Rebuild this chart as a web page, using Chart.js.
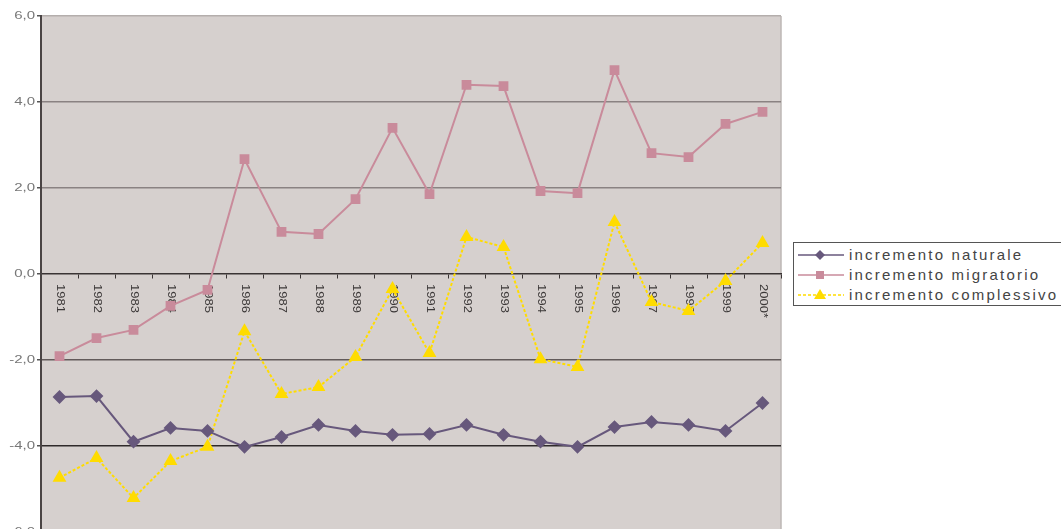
<!DOCTYPE html>
<html>
<head>
<meta charset="utf-8">
<script src="https://cdn.jsdelivr.net/npm/chart.js@4.4.1/dist/chart.umd.min.js"></script>
<style>
    html, body { margin: 0; padding: 0; background: #fff; overflow: hidden; }
    #wrap { position: relative; width: 1061px; height: 548px; }
    #legenda {
        position: absolute; left: 793px; top: 242px; width: 290px; height: 64px;
        border: 1px solid #555; background: #fff; box-sizing: border-box;
        font-family: 'Liberation Sans', Arial, sans-serif; font-size: 15px; color: #444;
        letter-spacing: 2.2px;
    }
    #legenda .voce { position: absolute; left: 4px; height: 20px; line-height: 20px; white-space: nowrap; }
    #legenda svg { vertical-align: middle; margin-right: 5px; position: relative; top: -1px; }
</style>
</head>
<body>
<div id="wrap">
    <canvas id="incrementiChart"></canvas>
    <div id="legenda"></div>
</div>
<script>
// Dati (valori per 1000 abitanti)
const anni = ['1981', '1982', '1983', '1984', '1985', '1986', '1987', '1988', '1989', '1990',
              '1991', '1992', '1993', '1994', '1995', '1996', '1997', '1998', '1999', '2000*'];
const naturale = [-2.86, -2.84, -3.90, -3.58, -3.65, -4.02, -3.79, -3.51, -3.65, -3.74,
                  -3.72, -3.51, -3.74, -3.90, -4.02, -3.56, -3.44, -3.51, -3.65, -3.00];
const migratorio = [-1.91, -1.49, -1.30, -0.74, -0.37, 2.67, 0.98, 0.93, 1.74, 3.40,
                    1.86, 4.40, 4.37, 1.93, 1.88, 4.74, 2.81, 2.72, 3.49, 3.77];
const complessivo = [-4.74, -4.28, -5.21, -4.35, -4.02, -1.33, -2.79, -2.63, -1.93, -0.35,
                     -1.84, 0.86, 0.63, -1.98, -2.16, 1.21, -0.65, -0.86, -0.16, 0.72];
const tickValori = [6, 4, 2, 0, -2, -4, -6];
const tickEtichette = ['6,0', '4,0', '2,0', '0,0', '-2,0', '-4,0', '-6,0'];

const colori = {
    naturale: '#67587c',
    migratorio: '#c98b9b',
    complessivo: '#ffdc00'
};

// sfondo grigio dell'area del grafico + etichette disegnate a mano
const sfondoPlugin = {
    id: 'sfondo',
    beforeDraw(chart) {
        const { ctx, chartArea: a } = chart;
        ctx.save();
        ctx.fillStyle = '#d6d0ce';
        ctx.fillRect(a.left, a.top, a.right - a.left, a.bottom - a.top);
        ctx.strokeStyle = '#bdb7b5';
        ctx.lineWidth = 1.5;
        ctx.beginPath();
        ctx.moveTo(a.right, a.top);
        ctx.lineTo(a.right, a.bottom);
        ctx.stroke();
        ctx.restore();
    },
    beforeDatasetsDraw(chart) {
        const { ctx, scales: { x, y } } = chart;
        ctx.save();
        ctx.fillStyle = '#3c3838';
        ctx.font = "10px 'Liberation Sans', Arial, sans-serif";
        // anni ruotati sotto l'asse dello zero
        const y0 = y.getPixelForValue(0) + 10;
        anni.forEach((anno, i) => {
            ctx.save();
            ctx.translate(x.getPixelForValue(i), y0);
            ctx.rotate(Math.PI / 2);
            ctx.scale(1.3, 1);
            ctx.textAlign = 'left';
            ctx.textBaseline = 'middle';
            ctx.fillText(anno, 0, 0);
            ctx.restore();
        });
        // etichette asse y
        ctx.fillStyle = '#777';
        tickValori.forEach((v, i) => {
            ctx.save();
            ctx.translate(35, y.getPixelForValue(v));
            ctx.scale(1.5, 1);
            ctx.textAlign = 'right';
            ctx.textBaseline = 'middle';
            ctx.fillText(tickEtichette[i], 0, 0);
            ctx.restore();
        });
        ctx.restore();
    }
};

function coloreGriglia(c) {
    const v = c.tick ? c.tick.value : 0;
    if (v >= 6) return '#b4aeac';
    if (v > 0) return '#8a8282';
    if (v === 0) return 'rgba(0,0,0,0)';
    if (v > -3) return '#625a5a';
    return '#2f2a2a';
}

new Chart(document.getElementById('incrementiChart'), {
    type: 'line',
    data: {
        labels: anni,
        datasets: [{
            label: 'incremento naturale',
            data: naturale,
            borderColor: colori.naturale,
            backgroundColor: colori.naturale,
            borderWidth: 2,
            pointStyle: 'rectRot',
            pointRadius: 5.5,
            pointHoverRadius: 5.5,
            tension: 0
        }, {
            label: 'incremento migratorio',
            data: migratorio,
            borderColor: colori.migratorio,
            backgroundColor: colori.migratorio,
            borderWidth: 2,
            pointStyle: 'rect',
            pointRadius: 5.5,
            pointHoverRadius: 5.5,
            tension: 0
        }, {
            label: 'incremento complessivo',
            data: complessivo,
            borderColor: colori.complessivo,
            backgroundColor: colori.complessivo,
            borderWidth: 2,
            borderDash: [3, 2],
            pointStyle: 'triangle',
            pointRadius: 6,
            pointHoverRadius: 6,
            tension: 0
        }]
    },
    options: {
        responsive: true,
        maintainAspectRatio: false,
        animation: false,
        layout: { padding: { top: 16, right: 280, bottom: 16, left: 0 } },
        plugins: {
            legend: { display: false },
            tooltip: { enabled: false }
        },
        scales: {
            x: {
                type: 'category',
                position: { y: 0 },
                offset: true,
                ticks: { display: false },
                grid: {
                    offset: true,
                    drawOnChartArea: false,
                    drawTicks: true,
                    tickLength: 4,
                    color: '#3a3434'
                },
                border: { display: true, color: '#3a3434', width: 1.5 }
            },
            y: {
                min: -6,
                max: 6,
                afterFit(scale) { scale.width = 41; },
                ticks: { display: false, stepSize: 2 },
                grid: {
                    color: coloreGriglia,
                    lineWidth: 1.5,
                    tickLength: 4,
                    tickColor: '#555'
                },
                border: { display: true, color: '#4a4444', width: 2 }
            }
        }
    },
    plugins: [sfondoPlugin]
});

// legenda in HTML con icone SVG
const voci = [
    { testo: 'incremento naturale', colore: colori.naturale, forma: 'rombo', tratteggio: '' },
    { testo: 'incremento migratorio', colore: colori.migratorio, forma: 'quadrato', tratteggio: '' },
    { testo: 'incremento complessivo', colore: colori.complessivo, forma: 'triangolo', tratteggio: '3,2' }
];
const legenda = document.getElementById('legenda');
voci.forEach((v, i) => {
    let marker = '';
    if (v.forma === 'rombo') marker = `<polygon points="22,1 27,6 22,11 17,6" fill="${v.colore}"/>`;
    if (v.forma === 'quadrato') marker = `<rect x="18" y="2" width="8" height="8" fill="${v.colore}"/>`;
    if (v.forma === 'triangolo') marker = `<polygon points="22,0 28,10 16,10" fill="${v.colore}"/>`;
    const el = document.createElement('div');
    el.className = 'voce';
    el.style.top = (2 + i * 20) + 'px';
    el.innerHTML = `<svg width="46" height="12"><line x1="0" y1="6" x2="46" y2="6" stroke="${v.colore}" stroke-width="1.5" stroke-dasharray="${v.tratteggio}"/>${marker}</svg>${v.testo}`;
    legenda.appendChild(el);
});
</script>
</body>
</html>
